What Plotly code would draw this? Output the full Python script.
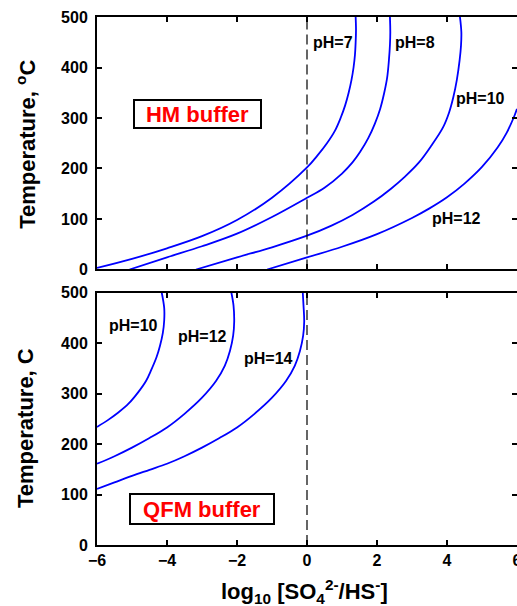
import plotly.graph_objects as go

# ---------------- data ----------------
# HM buffer (top panel): log10[SO4/HS] vs temperature (deg C)
hm_ph7_x = [-6, -5, -4, -3, -2, -1, 0, 0.29, 0.57, 0.80, 0.96, 1.09, 1.19, 1.27, 1.33, 1.37, 1.39, 1.40, 1.39]
hm_ph7_t = [3, 21, 42, 66, 98, 142, 202, 225, 250, 275, 300, 325, 350, 375, 400, 425, 450, 475, 500]
hm_ph8_x = [-5.07, -4, -3, -2, -1, 0, 0.5, 1.0, 1.3, 1.52, 1.75, 1.94, 2.09, 2.20, 2.29, 2.34, 2.37, 2.38, 2.37]
hm_ph8_t = [0, 24, 46, 71, 104, 142, 162, 190, 212, 233, 260, 289, 318, 348, 380, 414, 445, 470, 500]
hm_ph10_x = [-3.17, -2, -1, 0, 0.7, 1.3, 1.9, 2.4, 2.8, 3.2, 3.55, 3.89, 4.06, 4.18, 4.28, 4.36, 4.40, 4.41, 4.37]
hm_ph10_t = [0, 24, 44, 67, 87, 108, 134, 160, 184, 212, 245, 282, 311, 341, 375, 414, 443, 470, 500]
hm_ph12_x = [-1.14, 0, 1, 2, 3, 3.5, 4, 4.5, 5, 5.45, 5.7, 5.93, 6.0]
hm_ph12_t = [0, 24, 45, 70, 102, 121, 143, 170, 203, 242, 270, 305, 318]

# QFM buffer (bottom panel)
qfm_ph10_x = [-6, -5.7, -5.4, -5.1, -4.82, -4.6, -4.45, -4.3, -4.2, -4.12, -4.08, -4.08, -4.15]
qfm_ph10_t = [234, 247, 262, 280, 303, 325, 347, 372, 395, 420, 445, 470, 500]
qfm_ph12_x = [-6, -5.5, -5, -4.5, -4, -3.5, -3.0, -2.6, -2.35, -2.2, -2.11, -2.08, -2.1, -2.16]
qfm_ph12_t = [161, 176, 193, 212, 233, 260, 292, 325, 355, 385, 415, 443, 475, 500]
qfm_ph14_x = [-6, -5.5, -5, -4.5, -4, -3.5, -3, -2.5, -2, -1.5, -1, -0.6, -0.35, -0.2, -0.11, -0.08, -0.1, -0.12]
qfm_ph14_t = [111, 124, 137, 149, 161, 176, 193, 212, 233, 260, 292, 325, 355, 385, 415, 443, 475, 500]

# curve labels: (text, x, T)
hm_labels = [("pH=7", 0.74, 450), ("pH=8", 3.08, 450), ("pH=10", 4.95, 339), ("pH=12", 4.26, 100)]
qfm_labels = [("pH=10", -4.97, 435), ("pH=12", -3.0, 413), ("pH=14", -1.1, 370)]
hm_box = ("HM buffer", -3.12, 308)
qfm_box = ("QFM buffer", -3.0, 71)

x_ticks = [-6, -4, -2, 0, 2, 4, 6]
t_ticks = [0, 100, 200, 300, 400, 500]
ref_x = 0  # dashed reference line

# ---------------- figure ----------------
FONT = "Liberation Sans, Arial, sans-serif"
BLUE = "#0000ff"
curve_line = dict(color=BLUE, width=1.8, shape="spline", smoothing=1.0)

fig = go.Figure()
for xs, ts in [(hm_ph7_x, hm_ph7_t), (hm_ph8_x, hm_ph8_t), (hm_ph10_x, hm_ph10_t), (hm_ph12_x, hm_ph12_t)]:
    fig.add_trace(go.Scatter(x=xs, y=ts, mode="lines", line=curve_line,
                             xaxis="x", yaxis="y", showlegend=False, hoverinfo="skip"))
for xs, ts in [(qfm_ph10_x, qfm_ph10_t), (qfm_ph12_x, qfm_ph12_t), (qfm_ph14_x, qfm_ph14_t)]:
    fig.add_trace(go.Scatter(x=xs, y=ts, mode="lines", line=curve_line,
                             xaxis="x2", yaxis="y2", showlegend=False, hoverinfo="skip"))

axis_common = dict(showline=True, linecolor="black", linewidth=2, mirror="ticks",
                   ticks="inside", ticklen=5, tickwidth=1.5, tickcolor="black",
                   showgrid=False, zeroline=False, automargin=False,
                   tickfont=dict(family=FONT, size=16, color="black", weight="bold"))

fig.update_layout(
    width=517, height=606,
    margin=dict(l=97, r=0, t=17, b=61),
    paper_bgcolor="white", plot_bgcolor="white",
    xaxis=dict(axis_common, range=[-6, 6], tickvals=x_ticks, showticklabels=False, anchor="y", domain=[0, 1]),
    yaxis=dict(axis_common, range=[0, 500], tickvals=t_ticks, anchor="x", domain=[0.5218, 1], ticklabelstandoff=4),
    xaxis2=dict(axis_common, range=[-6, 6], tickvals=x_ticks, anchor="y2", domain=[0, 1],
                ticklabeloverflow="allow"),
    yaxis2=dict(axis_common, range=[0, 500], tickvals=t_ticks, anchor="x2", domain=[0, 0.4778], ticklabelstandoff=4),
)

for xr, yr in [("x", "y"), ("x2", "y2")]:
    fig.add_shape(type="line", xref=xr, yref=yr + " domain", x0=ref_x, x1=ref_x, y0=0, y1=1,
                  line=dict(color="black", width=1.2, dash="10px,5px"))

for text, x, y in hm_labels:
    fig.add_annotation(text=text, x=x, y=y, xref="x", yref="y", showarrow=False,
                       font=dict(family=FONT, size=16, color="black", weight="bold"))
for text, x, y in qfm_labels:
    fig.add_annotation(text=text, x=x, y=y, xref="x2", yref="y2", showarrow=False,
                       font=dict(family=FONT, size=16, color="black", weight="bold"))

fig.add_annotation(text=hm_box[0], x=hm_box[1], y=hm_box[2], xref="x", yref="y", showarrow=False,
                   font=dict(family=FONT, size=22, color="#ff0000", weight="bold"),
                   bordercolor="black", borderwidth=2, borderpad=0, bgcolor="white", width=125, height=26)
fig.add_annotation(text=qfm_box[0], x=qfm_box[1], y=qfm_box[2], xref="x2", yref="y2", showarrow=False,
                   font=dict(family=FONT, size=22, color="#ff0000", weight="bold"),
                   bordercolor="black", borderwidth=2, borderpad=0, bgcolor="white", width=142, height=28)

# axis titles
title_font = dict(family=FONT, size=22, color="black", weight="bold")
fig.add_annotation(text="Temperature, <sup>o</sup>C", xref="paper", yref="paper", x=-0.169, y=0.758,
                   xanchor="center", yanchor="middle", textangle=-90, showarrow=False, font=title_font)
fig.add_annotation(text="Temperature, C", xref="paper", yref="paper", x=-0.169, y=0.2216,
                   xanchor="center", yanchor="middle", textangle=-90, showarrow=False, font=title_font)
fig.add_annotation(text="log<sub>10</sub> [SO<sub>4</sub><sup>2-</sup>/HS<sup>-</sup>]", xref="paper", yref="paper",
                   x=0.495, y=-0.089, xanchor="center", yanchor="middle", showarrow=False, font=title_font)

fig.write_html("out.html", config={"displayModeBar": False},
               post_script="document.body.style.margin='0';")
